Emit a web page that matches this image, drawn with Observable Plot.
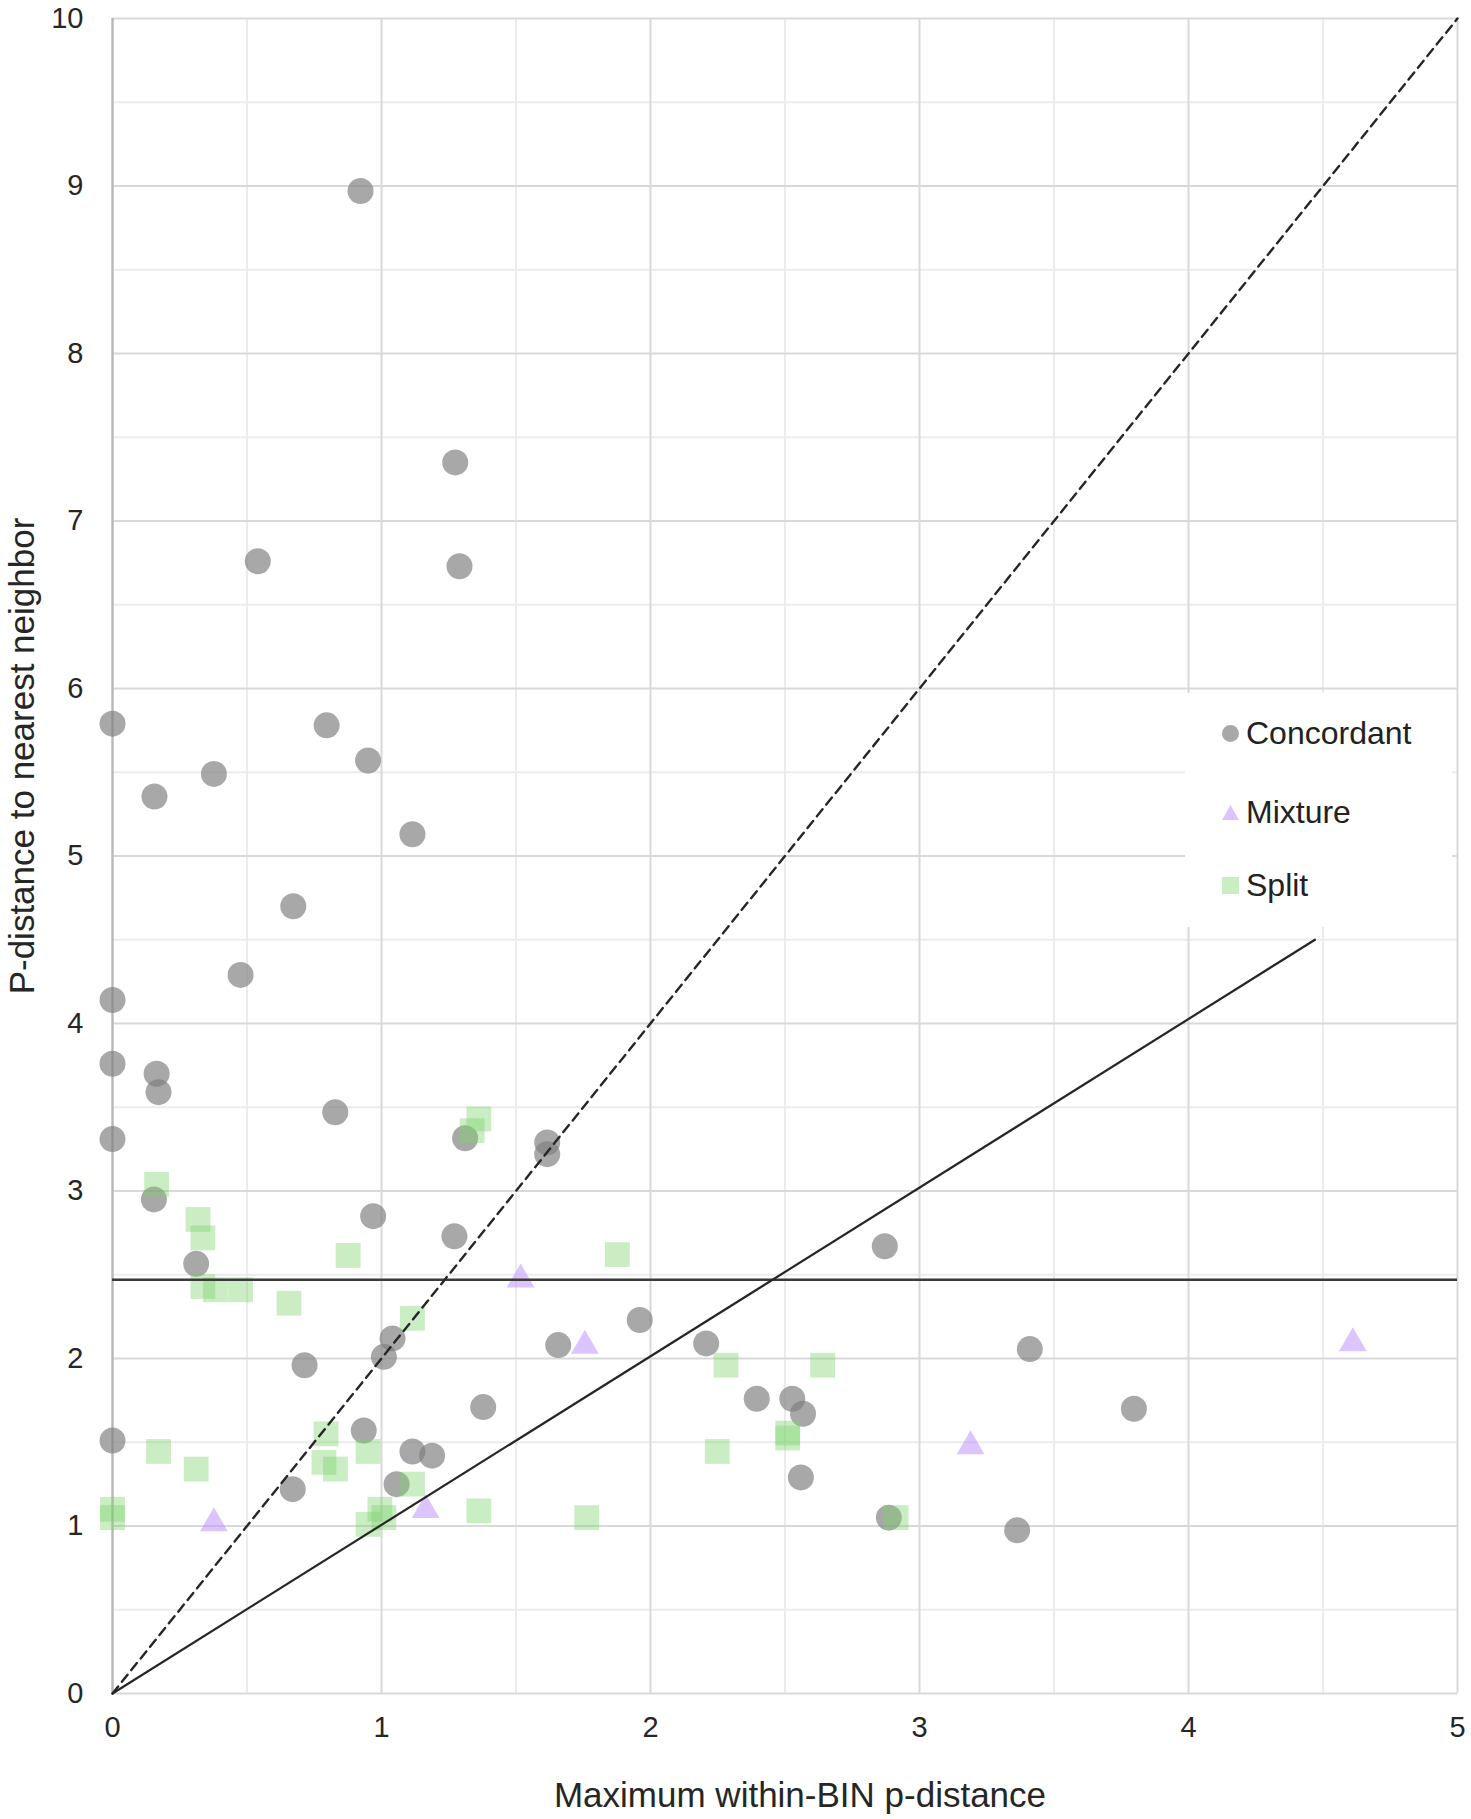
<!DOCTYPE html>
<html>
<head>
<meta charset="utf-8">
<script src="https://cdn.jsdelivr.net/npm/d3@7"></script>
<script src="https://cdn.jsdelivr.net/npm/@observablehq/plot@0.6"></script>
<style>
  html, body { margin: 0; padding: 0; background: #fff; }
  #wrap { position: relative; width: 1471px; height: 1819px; font-family: "Liberation Sans", Arial, sans-serif; }
  #legend { position: absolute; left: 1185px; top: 693px; width: 267px; height: 234px; background: #fff; }
  .row { position: absolute; left: 37px; height: 40px; display: flex; align-items: center; font-size: 32px; color: #222; }
  .row svg { display: block; margin-right: 7px; }
</style>
</head>
<body>
<div id="wrap"></div>
<script>
// ---- data ----
const xTicks = [0, 1, 2, 3, 4, 5];
const yTicks = [0, 1, 2, 3, 4, 5, 6, 7, 8, 9, 10];
const xMinor = [0.5, 1.5, 2.5, 3.5, 4.5];
const yMinor = [0.5, 1.5, 2.5, 3.5, 4.5, 5.5, 6.5, 7.5, 8.5, 9.5];

const seriesNames = ["Concordant", "Mixture", "Split"];

const concordantX = [0.922, 1.274, 0.540, 1.290, 0, 0.796, 0.950, 0.377, 0.156, 1.115,
  0.672, 0.476, 0, 0, 0.164, 0.171, 0.828, 0, 1.311, 1.616,
  1.616, 0.154, 0.969, 1.271, 0.311, 2.871, 1.960, 1.041, 1.009, 1.657,
  2.207, 0.714, 2.395, 2.527, 2.567, 1.378, 0.934, 0, 1.115, 1.188,
  0.670, 1.056, 2.559, 2.886, 3.410, 3.797, 3.363];
const concordantY = [8.97, 7.35, 6.76, 6.73, 5.79, 5.78, 5.57, 5.49, 5.355, 5.13,
  4.70, 4.29, 4.14, 3.76, 3.70, 3.59, 3.47, 3.31, 3.315, 3.29,
  3.22, 2.95, 2.85, 2.73, 2.565, 2.67, 2.23, 2.12, 2.01, 2.08,
  2.09, 1.96, 1.76, 1.76, 1.67, 1.71, 1.57, 1.51, 1.445, 1.42,
  1.22, 1.25, 1.29, 1.05, 2.056, 1.70, 0.974];

const mixtureX = [1.517, 1.756, 0.377, 1.164, 3.19, 4.611];
const mixtureY = [2.495, 2.10, 1.04, 1.12, 1.50, 2.115];

const splitX = [0.164, 0.318, 0.336, 0.876, 0.336, 0.383, 0.476, 0.656, 1.115, 0.794,
  0.171, 0.950, 0.786, 0.829, 0.311, 0, 0, 0.994, 0.950, 1.009,
  1.115, 1.362, 1.362, 1.337, 1.877, 2.281, 2.640, 2.510, 2.510, 2.248,
  1.763, 2.913];
const splitY = [3.04, 2.83, 2.72, 2.615, 2.43, 2.41, 2.41, 2.33, 2.24, 1.55,
  1.445, 1.445, 1.38, 1.34, 1.34, 1.10, 1.05, 1.10, 1.01, 1.05,
  1.25, 1.09, 3.43, 3.36, 2.62, 1.96, 1.96, 1.555, 1.525, 1.445,
  1.05, 1.05];

// reference lines
const dashLineX = [0, 5];      // y = 2x
const dashLineY = [0, 10];
const solidLineX = [0, 4.47];  // y = x
const solidLineY = [0, 4.5];
const thresholdY = [2.47];

const xTitle = "Maximum within-BIN p-distance";
const yTitle = "P-distance to nearest neighbor";

// ---- build ----
const pts = (xs, ys) => xs.map((x, i) => ({x, y: ys[i]}));
const concordant = pts(concordantX, concordantY);
const mixture = pts(mixtureX, mixtureY);
const split = pts(splitX, splitY);
const dashLine = pts(dashLineX, dashLineY);
const solidLine = pts(solidLineX, solidLineY);

const colors = { Concordant: "#7f7f7f", Mixture: "#b98cff", Split: "#7ad36b" };
const opac = { Concordant: 0.68, Mixture: 0.5, Split: 0.4 };

const chart = Plot.plot({
  width: 1471,
  height: 1819,
  marginLeft: 112,
  marginRight: 14,
  marginTop: 18,
  marginBottom: 126,
  x: { domain: [0, 5] },
  y: { domain: [0, 10] },
  style: { fontFamily: "'Liberation Sans', Arial, sans-serif", background: "#fff", color: "#262626", overflow: "visible" },
  marks: [
    Plot.gridX(xMinor, { stroke: "#ececec", strokeOpacity: 1, strokeWidth: 2 }),
    Plot.gridY(yMinor, { stroke: "#ececec", strokeOpacity: 1, strokeWidth: 2 }),
    Plot.gridX(xTicks, { stroke: "#d9d9d9", strokeOpacity: 1, strokeWidth: 2 }),
    Plot.gridY(yTicks, { stroke: "#d9d9d9", strokeOpacity: 1, strokeWidth: 2 }),
    Plot.ruleX([0], { stroke: "#b8b8b8", strokeWidth: 2.2 }),
    Plot.axisX({ ticks: xTicks, tickSize: 0, tickPadding: 23, fontSize: 29, label: null, tickFormat: d => String(d) }),
    Plot.axisY({ ticks: yTicks, tickSize: 0, tickPadding: 29, fontSize: 29, label: null, tickFormat: d => String(d) }),
    Plot.dot(concordant, { x: "x", y: "y", r: 13, symbol: "circle", fill: colors.Concordant, fillOpacity: opac.Concordant, stroke: "none" }),
    Plot.dot(mixture, { x: "x", y: "y", r: 10.3, symbol: "triangle", dy: 4, fill: colors.Mixture, fillOpacity: opac.Mixture, stroke: "none" }),
    Plot.dot(split, { x: "x", y: "y", r: 14, symbol: "square", fill: colors.Split, fillOpacity: opac.Split, stroke: "none" }),
    Plot.ruleY(thresholdY, { x1: 0, x2: 5, stroke: "#3a3a3a", strokeWidth: 2.6 }),
    Plot.line(dashLine, { x: "x", y: "y", stroke: "#262626", strokeWidth: 2.4, strokeDasharray: "9,6" }),
    Plot.line(solidLine, { x: "x", y: "y", stroke: "#262626", strokeWidth: 2.2 }),
    Plot.text([xTitle], { frameAnchor: "bottom", lineAnchor: "middle", textAnchor: "middle", dy: 102, dx: 15, fontSize: 35, fill: "#262626" }),
    Plot.text([yTitle], { frameAnchor: "left", textAnchor: "middle", lineAnchor: "middle", rotate: -90, dx: -90, dy: -100, fontSize: 35, fill: "#262626" })
  ]
});

const wrap = document.getElementById("wrap");
wrap.appendChild(chart);

// legend (inside the plot area, as in the reference)
const legend = document.createElement("div");
legend.id = "legend";
const sw = {
  Concordant: `<svg width="17" height="17"><circle cx="8.5" cy="8.5" r="8.5" fill="${colors.Concordant}" fill-opacity="${opac.Concordant}"/></svg>`,
  Mixture: `<svg width="17" height="17"><polygon points="8.5,1 17,16 0,16" fill="${colors.Mixture}" fill-opacity="${opac.Mixture}"/></svg>`,
  Split: `<svg width="17" height="17"><rect x="0" y="0" width="17" height="17" fill="${colors.Split}" fill-opacity="${opac.Split}"/></svg>`
};
const rowCenters = [40, 119, 192];
seriesNames.forEach((name, i) => {
  const row = document.createElement("div");
  row.className = "row";
  row.style.top = (rowCenters[i] - 20) + "px";
  row.innerHTML = sw[name] + `<span>${name}</span>`;
  legend.appendChild(row);
});
wrap.appendChild(legend);
</script>
</body>
</html>
